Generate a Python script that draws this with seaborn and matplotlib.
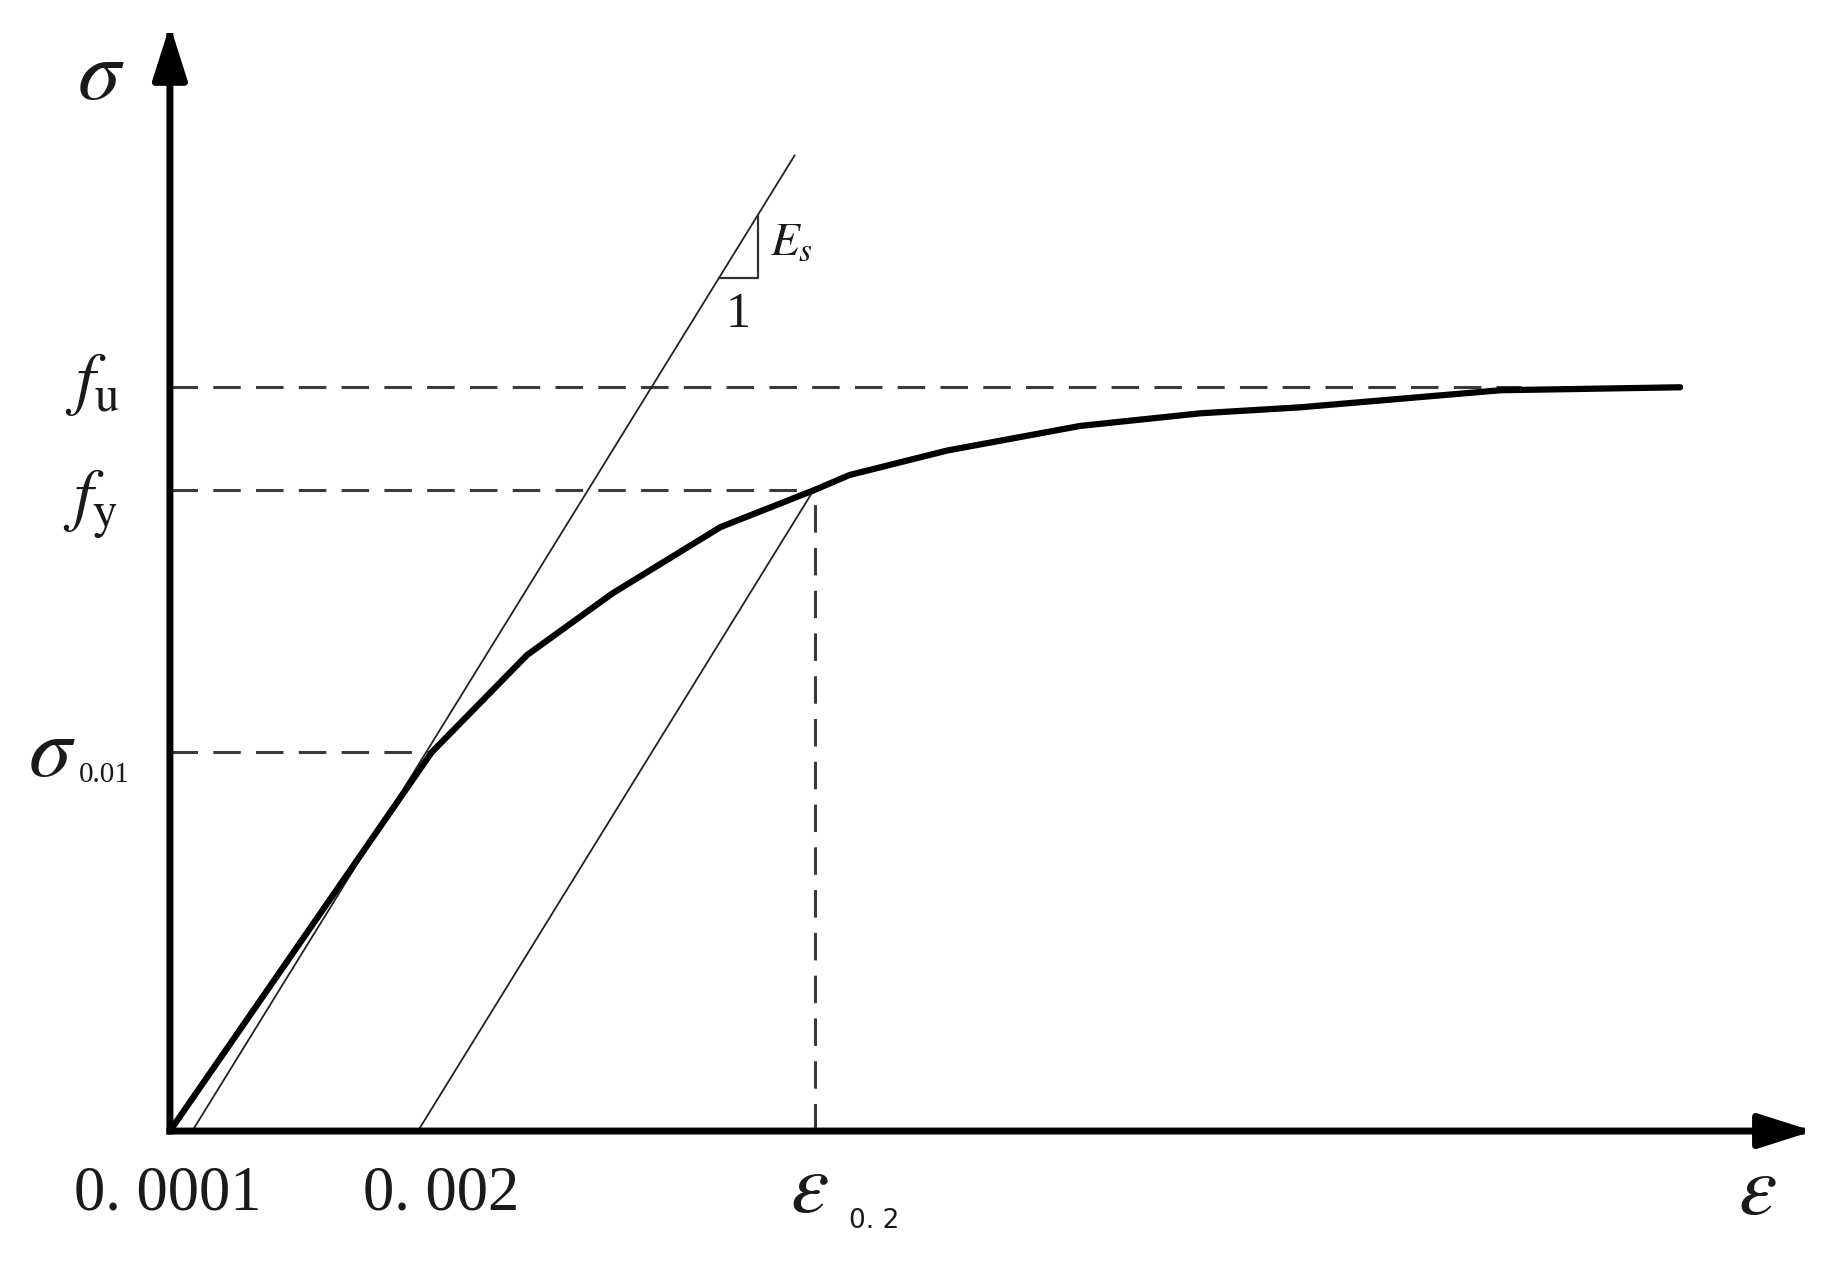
import matplotlib
matplotlib.use("Agg")
import matplotlib.pyplot as plt
import seaborn as sns
import numpy as np
import pandas as pd
from matplotlib.patches import ArrowStyle

# stress-strain curve (strain, stress normalised by fu)
strain = [0, 0.00211, 0.00288, 0.00357, 0.00444, 0.0052, 0.00548,
          0.00627, 0.00734, 0.00831, 0.00911, 0.01073, 0.01218]
stress = [0, 0.509, 0.640, 0.723, 0.812, 0.862, 0.882,
          0.915, 0.948, 0.965, 0.973, 0.996, 1.0]

f_u = 1.0
f_y = 0.862
sigma_001 = 0.509
eps_02 = 0.0052
eps_start = [0.00018, 0.002]      # where the two elastic lines leave the axis
E_s = 270.0                        # slope of elastic lines (same units)
line1_top = 1.312                  # stress at the upper end of the first elastic line
tri_eps = [0.00443, 0.00474]       # slope triangle
fu_dash_end = 0.0109
sig001_dash_end = 0.00213
x_max = 0.01325
y_max = 1.487

sns.set_theme(style="white")
plt.rcParams["mathtext.fontset"] = "stix"
plt.rcParams["font.family"] = ["Liberation Serif", "DejaVu Serif"]

fig = plt.figure(figsize=(18.33, 12.66), dpi=100)
ax = fig.add_axes([0.0927, 0.1066, 0.8963, 0.8736])
ax.set_xlim(0, x_max)
ax.set_ylim(0, y_max)
ax.axis("off")

dash = (0, (9, 5))
dcol = "#3a3a3a"

# dashed guide lines
ax.hlines([f_u, f_y, sigma_001], 0, [fu_dash_end, eps_02, sig001_dash_end],
          colors=dcol, linestyles=dash, lw=2.2)
ax.vlines(eps_02, 0, f_y, colors=dcol, linestyles=dash, lw=2.2)

# elastic lines
l1 = pd.DataFrame({"x": [eps_start[0], eps_start[0] + line1_top / E_s],
                   "y": [0, line1_top]})
l2 = pd.DataFrame({"x": [eps_start[1], eps_start[1] + f_y / E_s],
                   "y": [0, f_y]})
sns.lineplot(data=l1, x="x", y="y", ax=ax, color="#222222", lw=1.3)
sns.lineplot(data=l2, x="x", y="y", ax=ax, color="#222222", lw=1.3)

# slope triangle
tx0, tx1 = tri_eps
ty0 = E_s * (tx0 - eps_start[0])
ty1 = E_s * (tx1 - eps_start[0])
ax.plot([tx0, tx1, tx1], [ty0, ty0, ty1], color="#333333", lw=1.6)

# main curve
sns.lineplot(x=strain, y=stress, ax=ax, color="black", lw=4.5, sort=False)
for ln in ax.lines:
    ln.set_clip_on(False)

# axes with arrows
astyle = ArrowStyle("-|>", head_length=33, head_width=10.5)
for end in [(x_max, 0), (0, y_max)]:
    ax.annotate("", xy=end, xytext=(0, 0),
                arrowprops=dict(arrowstyle=astyle, mutation_scale=1, lw=5,
                                color="black", shrinkA=0, shrinkB=0,
                                capstyle="projecting"),
                annotation_clip=False)

tc = "#1a1a1a"
def lab(s, xy, off, size, **kw):
    ax.annotate(s, xy=xy, xytext=off, textcoords="offset points",
                ha="center", va="center", fontsize=size, color=tc,
                annotation_clip=False, **kw)

lab(r"$\sigma$", (0, y_max), (-50, -38), 62)
lab(r"$f_{\mathrm{u}}$", (0, f_u), (-56, 2), 50)
lab(r"$f_{\mathrm{y}}$", (0, f_y), (-57, -10), 50)
lab(r"$\sigma$", (0, sigma_001), (-85, -2), 62)
lab("0.01", (0, sigma_001), (-47.5, -16), 21)
lab("0. 0001", (0, 0), (-1.5, -46), 45)
lab("0. 002", (eps_start[1], 0), (16.5, -46), 45)
lab(r"$\varepsilon$", (eps_02, 0), (-4, -43), 62)
lab("0. 2", (eps_02, 0), (43, -65), 19, family="DejaVu Sans")
lab(r"$\varepsilon$", (x_max, 0), (-40, -45), 62)
lab(r"$E_{s}$", (tx1, ty0), (24.5, 24.5), 34)
lab("1", (tx1, ty0), (-14, -27), 36)

fig.savefig("out.png", dpi=100)
